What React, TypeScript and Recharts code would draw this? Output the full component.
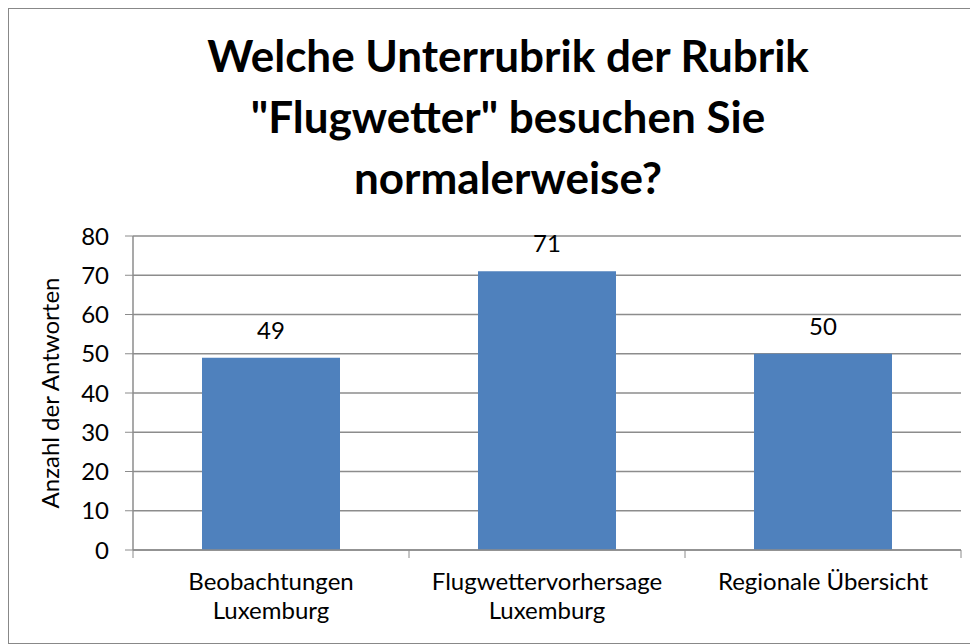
import React from 'react'
import { BarChart, Bar, XAxis, YAxis, CartesianGrid, LabelList } from 'recharts'

const categories = ['Beobachtungen\nLuxemburg', 'Flugwettervorhersage\nLuxemburg', 'Regionale Übersicht']
const answers = [49, 71, 50]
const yTicks = [0, 10, 20, 30, 40, 50, 60, 70, 80]
const titleLines = ['Welche Unterrubrik der Rubrik', '"Flugwetter" besuchen Sie', 'normalerweise?']
const yLabel = 'Anzahl der Antworten'

const W = 962
const H = 634
const FONT = 'Lato, "Open Sans", sans-serif'
const GRID = '#8c8c8c'
const margin = { top: 227, right: 10, left: 0, bottom: 33 }
const Y_WIDTH = 124
const X_HEIGHT = 60
const BAND = (W - margin.right - Y_WIDTH) / categories.length

const data = categories.map((name, i) => ({ name, value: answers[i] }))

const CategoryTick = (props: any) => {
  const { x, y, payload, index } = props
  const lines = String(payload.value).split('\n')
  return (
    <g>
      <line x1={x - BAND / 2} y1={y - 8} x2={x - BAND / 2} y2={y} stroke={GRID} />
      {index === categories.length - 1 && (
        <line x1={x + BAND / 2} y1={y - 8} x2={x + BAND / 2} y2={y} stroke={GRID} />
      )}
      <text x={x} y={y + 32} textAnchor="middle" fontSize={24} fill="#000" fontFamily={FONT}>
        {lines.map((l, i) => (
          <tspan key={i} x={x} dy={i === 0 ? 0 : 29}>{l}</tspan>
        ))}
      </text>
    </g>
  )
}

export default function App() {
  return (
    <div style={{ position: 'relative', width: W, height: H, border: '1px solid #888', background: '#fff' }}>
      <div
        style={{
          position: 'absolute', left: 18, top: 16, width: W, textAlign: 'center',
          fontFamily: FONT, fontWeight: 700, fontSize: 44, lineHeight: '61px', color: '#000'
        }}
      >
        {titleLines.map((t, i) => <div key={i}>{t}</div>)}
      </div>
      <BarChart width={W} height={H} data={data} margin={margin} barCategoryGap="25%">
        <CartesianGrid vertical={false} stroke={GRID} strokeWidth={1.5} />
        <XAxis
          dataKey="name"
          height={X_HEIGHT}
          tickLine={false}
          axisLine={{ stroke: GRID, strokeWidth: 1.5 }}
          tick={<CategoryTick />}
          interval={0}
        />
        <YAxis
          width={Y_WIDTH}
          domain={[0, 80]}
          ticks={yTicks}
          tickSize={8}
          tickMargin={16}
          tickLine={{ stroke: GRID }}
          axisLine={{ stroke: GRID, strokeWidth: 1.5 }}
          tick={{ fontSize: 24, fill: '#000', fontFamily: FONT }}
          label={{
            value: yLabel, angle: -90, position: 'insideLeft', dx: 36,
            style: { textAnchor: 'middle', fontSize: 24, fill: '#000', fontFamily: FONT }
          }}
        />
        <Bar dataKey="value" fill="#4f81bd" isAnimationActive={false}>
          <LabelList dataKey="value" position="top" offset={19} fill="#000" fontSize={24} fontFamily={FONT} />
        </Bar>
      </BarChart>
    </div>
  )
}
